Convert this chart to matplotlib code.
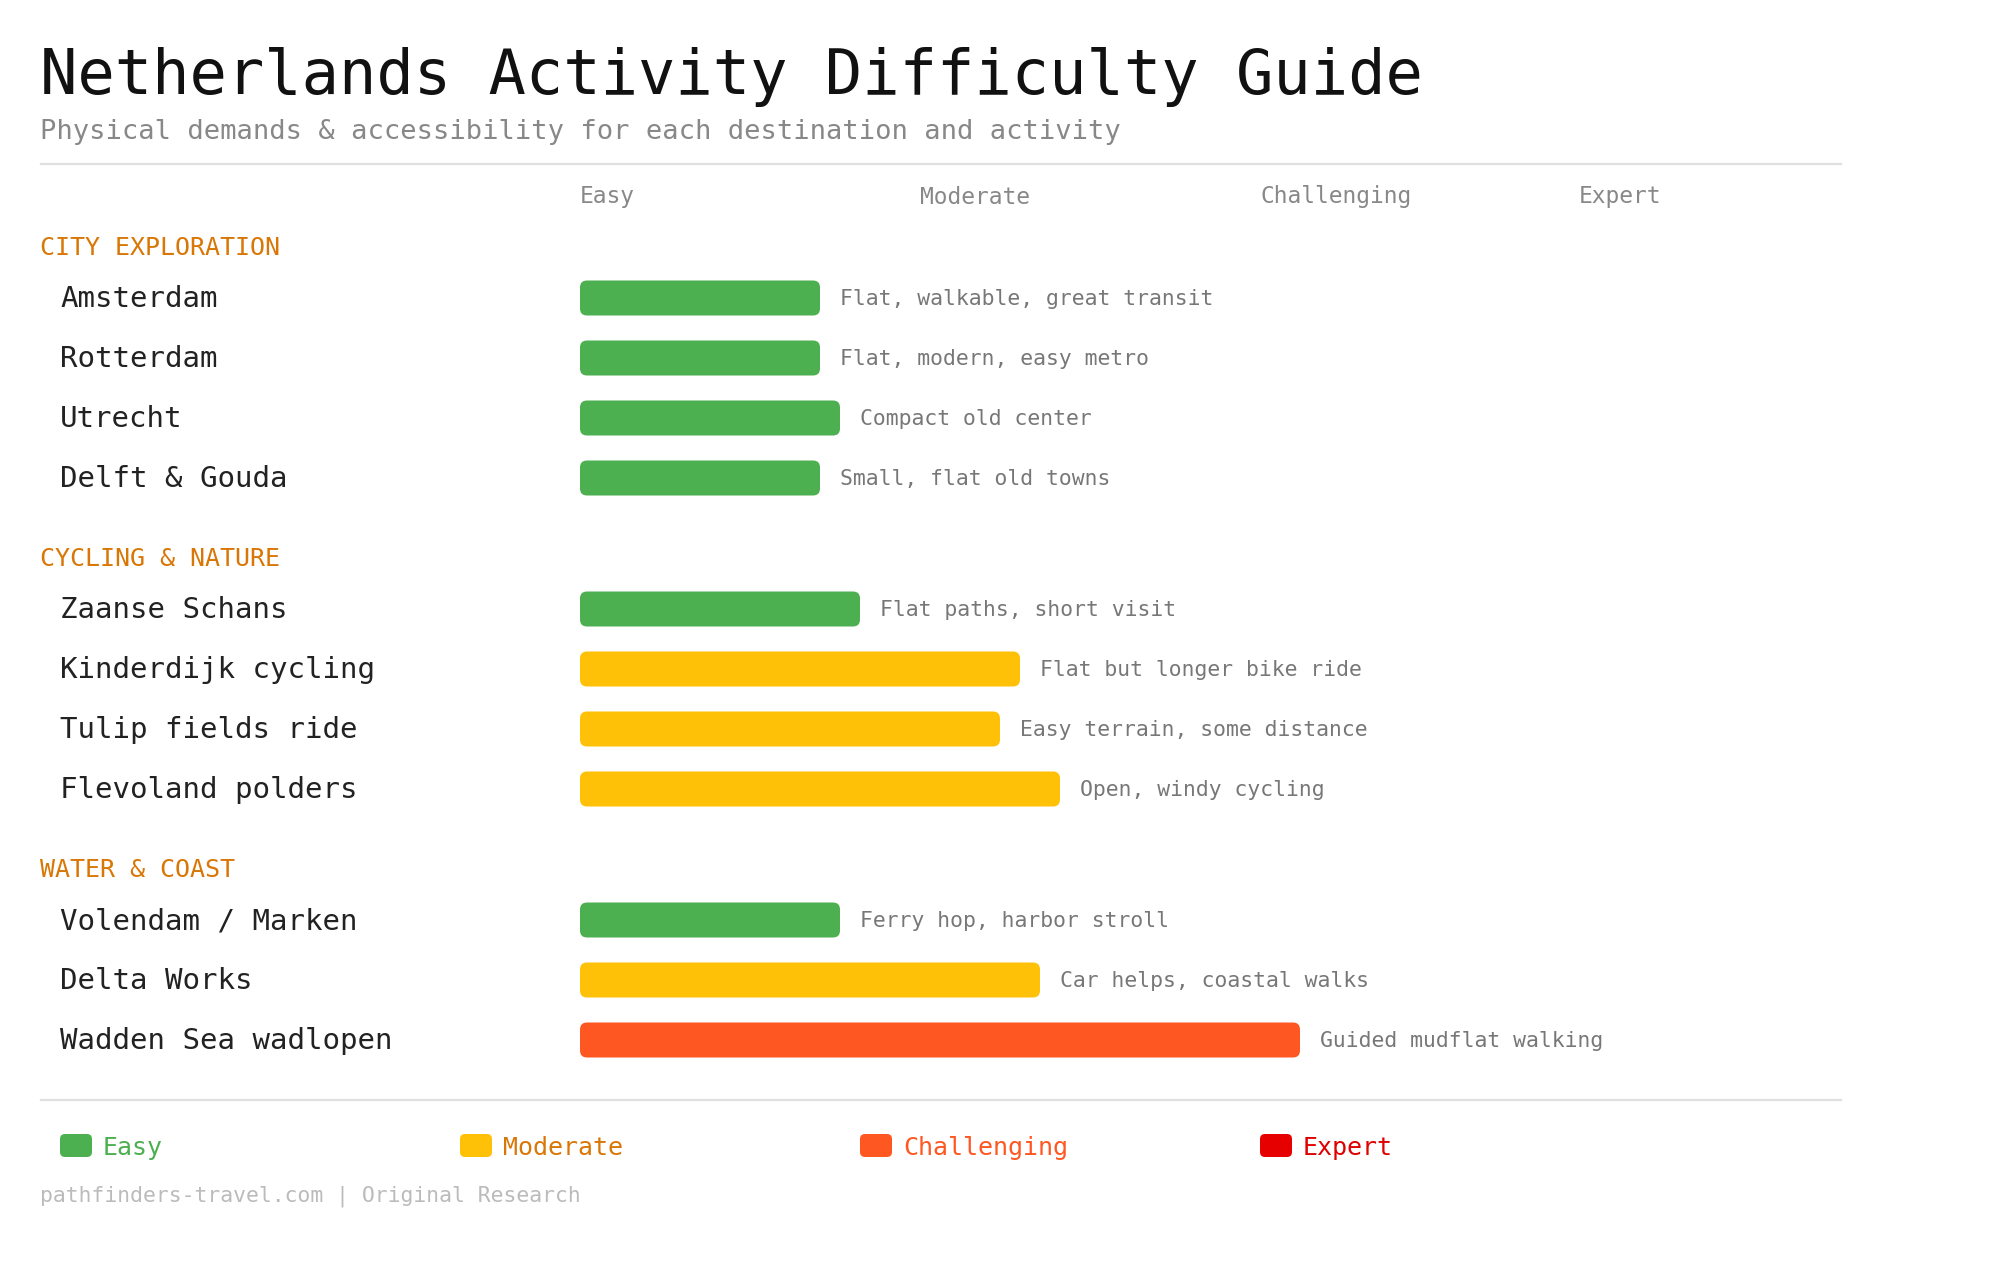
import matplotlib
matplotlib.use("Agg")
from matplotlib import pyplot as plt
from matplotlib.patches import FancyBboxPatch

plt.rcParams['font.family'] = ['DejaVu Sans Mono']

# data
sections = ["CITY EXPLORATION", "CYCLING & NATURE", "WATER & COAST"]
places = ["Amsterdam", "Rotterdam", "Utrecht", "Delft & Gouda",
          "Zaanse Schans", "Kinderdijk cycling", "Tulip fields ride", "Flevoland polders",
          "Volendam / Marken", "Delta Works", "Wadden Sea wadlopen"]
place_section = [0, 0, 0, 0, 1, 1, 1, 1, 2, 2, 2]
scores = [12, 12, 13, 12, 14, 22, 21, 24, 13, 23, 36]
levels = ["Easy", "Easy", "Easy", "Easy",
          "Easy", "Moderate", "Moderate", "Moderate",
          "Easy", "Moderate", "Challenging"]
notes = ["Flat, walkable, great transit", "Flat, modern, easy metro",
         "Compact old center", "Small, flat old towns",
         "Flat paths, short visit", "Flat but longer bike ride",
         "Easy terrain, some distance", "Open, windy cycling",
         "Ferry hop, harbor stroll", "Car helps, coastal walks",
         "Guided mudflat walking"]
level_names = ["Easy", "Moderate", "Challenging", "Expert"]
level_colors = {"Easy": "#4CAF50", "Moderate": "#FFC107",
                "Challenging": "#FF5722", "Expert": "#E60000"}
legend_text_colors = {"Easy": "#4CAF50", "Moderate": "#D97706",
                      "Challenging": "#FF5722", "Expert": "#E00000"}

W, H = 2000, 1280
fig = plt.figure(figsize=(20, 12.8), dpi=100)
fig.patch.set_facecolor("white")

# pixel-space axes for text
ax = fig.add_axes([0, 0, 1, 1])
ax.set_xlim(0, W)
ax.set_ylim(H, 0)
ax.axis("off")

# bar axes: x in score units (20 px each), y in pixels
bar_x0 = 580
px_per_unit = 20
axb = fig.add_axes([bar_x0 / W, 0, (W - bar_x0) / W, 1])
axb.set_xlim(0, (W - bar_x0) / px_per_unit)
axb.set_ylim(H, 0)
axb.axis("off")

ax.text(40, 94, "Netherlands Activity Difficulty Guide", fontsize=44.7,
        color="#111111", va="baseline")
ax.text(40, 132, "Physical demands & accessibility for each destination and activity",
        fontsize=19.5, color="#888888", va="center")
ax.plot([41, 1841], [164, 164], color="#e0e0e0", lw=1.6)

header_x = [580, 920, 1260, 1579]
for name, hx in zip(level_names, header_x):
    ax.text(hx, 197, name, fontsize=16.5, color="#888888", va="center")

# layout rows
y = 248
prev_sec = -1
for i, place in enumerate(places):
    sec = place_section[i]
    if sec != prev_sec:
        if prev_sec >= 0:
            y += 80
        ax.text(40, y, sections[sec], fontsize=18, color="#D97706", va="center")
        y += 51
        prev_sec = sec
    else:
        y += 60
    ax.text(60, y, place, fontsize=21, color="#222222", va="center")
    bh = 35
    patch = FancyBboxPatch((0, y - 1 - bh / 2), scores[i], bh,
                           boxstyle="round,pad=0,rounding_size=0.35",
                           mutation_aspect=px_per_unit,
                           fc=level_colors[levels[i]], ec="none")
    axb.add_patch(patch)
    axb.text(scores[i] + 1, y, notes[i], fontsize=15.4, color="#777777", va="center")

ax.plot([41, 1841], [1100, 1100], color="#e0e0e0", lw=1.6)

legend_x = [60, 460, 860, 1260]
for name, lx in zip(level_names, legend_x):
    sq = FancyBboxPatch((lx, 1134), 32, 23, boxstyle="round,pad=0,rounding_size=5",
                        fc=level_colors[name], ec="none")
    ax.add_patch(sq)
    ax.text(lx + 43, 1148, name, fontsize=18, color=legend_text_colors[name], va="center")

ax.text(40, 1196, "pathfinders-travel.com | Original Research", fontsize=15.4,
        color="#bbbbbb", va="center")

fig.savefig("out.png", dpi=100, facecolor="white")
